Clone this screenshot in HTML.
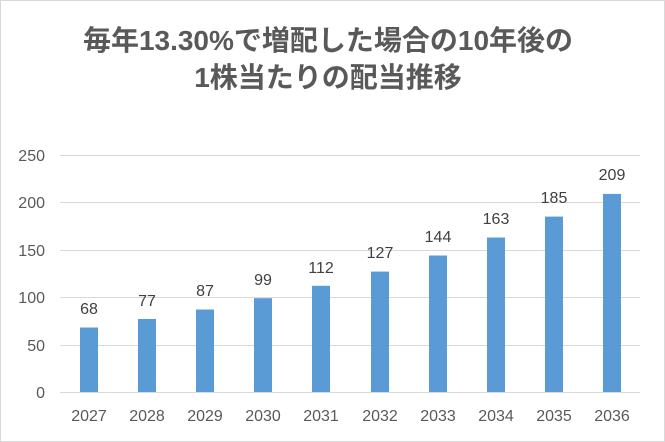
<!DOCTYPE html>
<html><head><meta charset="utf-8"><style>
body{margin:0;background:#fff}
svg{display:block}
text{font-family:"Liberation Sans","Noto Sans CJK JP",sans-serif}
</style></head><body>
<svg width="665" height="442" viewBox="0 0 665 442">
<rect x="0.5" y="0.5" width="664" height="441" fill="#fff" stroke="#d9d9d9"/>
<text x="328" y="50" text-anchor="middle" font-size="28" font-weight="bold" fill="#595959">毎年13.30%で増配した場合の10年後の</text>
<text x="328" y="87" text-anchor="middle" font-size="28" font-weight="bold" fill="#595959">1株当たりの配当推移</text>
<g stroke="#d9d9d9" stroke-width="1">
<line x1="60" x2="640" y1="155.5" y2="155.5"/>
<line x1="60" x2="640" y1="202.5" y2="202.5"/>
<line x1="60" x2="640" y1="250.5" y2="250.5"/>
<line x1="60" x2="640" y1="297.5" y2="297.5"/>
<line x1="60" x2="640" y1="345.5" y2="345.5"/>
<line x1="60" x2="640" y1="392.5" y2="392.5"/>
</g>
<g font-size="16" fill="#595959" text-anchor="end">
<text x="45" y="161">250</text><text x="45" y="208">200</text><text x="45" y="256">150</text>
<text x="45" y="303">100</text><text x="45" y="351">50</text><text x="45" y="398">0</text>
</g>
<g fill="#5b9bd5">
<rect x="80" y="327.5" width="18" height="64.5"/>
<rect x="138" y="319" width="18" height="73"/>
<rect x="196" y="309.5" width="18" height="82.5"/>
<rect x="254" y="298.2" width="18" height="93.8"/>
<rect x="312" y="285.8" width="18" height="106.2"/>
<rect x="371" y="271.6" width="18" height="120.4"/>
<rect x="429" y="255.5" width="18" height="136.5"/>
<rect x="487" y="237.5" width="18" height="154.5"/>
<rect x="545" y="216.6" width="18" height="175.4"/>
<rect x="603" y="193.9" width="18" height="198.1"/>
</g>
<g font-size="16" fill="#404040" text-anchor="middle">
<text x="89" y="314">68</text><text x="147" y="306">77</text><text x="205" y="296">87</text>
<text x="263" y="285">99</text><text x="321" y="273">112</text><text x="380" y="258">127</text>
<text x="438" y="242">144</text><text x="496" y="224">163</text><text x="554" y="203">185</text>
<text x="612" y="180">209</text>
</g>
<g font-size="16" fill="#595959" text-anchor="middle">
<text x="89" y="421">2027</text><text x="147" y="421">2028</text><text x="205" y="421">2029</text>
<text x="263" y="421">2030</text><text x="321" y="421">2031</text><text x="380" y="421">2032</text>
<text x="438" y="421">2033</text><text x="496" y="421">2034</text><text x="554" y="421">2035</text>
<text x="612" y="421">2036</text>
</g>
</svg>
</body></html>
